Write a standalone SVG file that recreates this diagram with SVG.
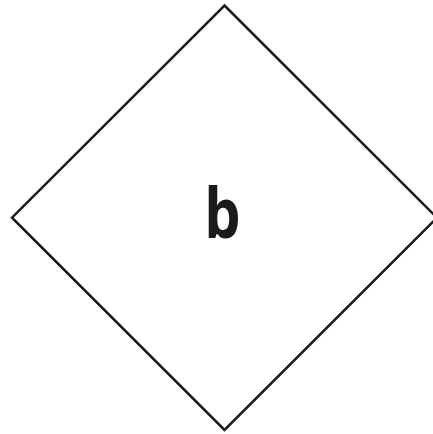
<svg xmlns="http://www.w3.org/2000/svg" width="433" height="434" viewBox="0 0 433 434">
<style>
.shape{fill:#ffffff;stroke:#1a1a1a;stroke-width:2.5}
.lbl{font-family:"Open Sans",sans-serif;font-weight:700;font-size:70px;fill:#1a1a1a;text-anchor:middle}
</style>
<rect width="433" height="434" fill="#ffffff"/>
<g id="node-b">
<polygon class="shape" points="224.5,5.5 437,217.7 224.5,430 12,217.7"/>
<text class="lbl" transform="translate(222.5,238) scale(0.82,1)" x="0" y="0">b</text>
</g>
<g id="connectors"></g>
</svg>
